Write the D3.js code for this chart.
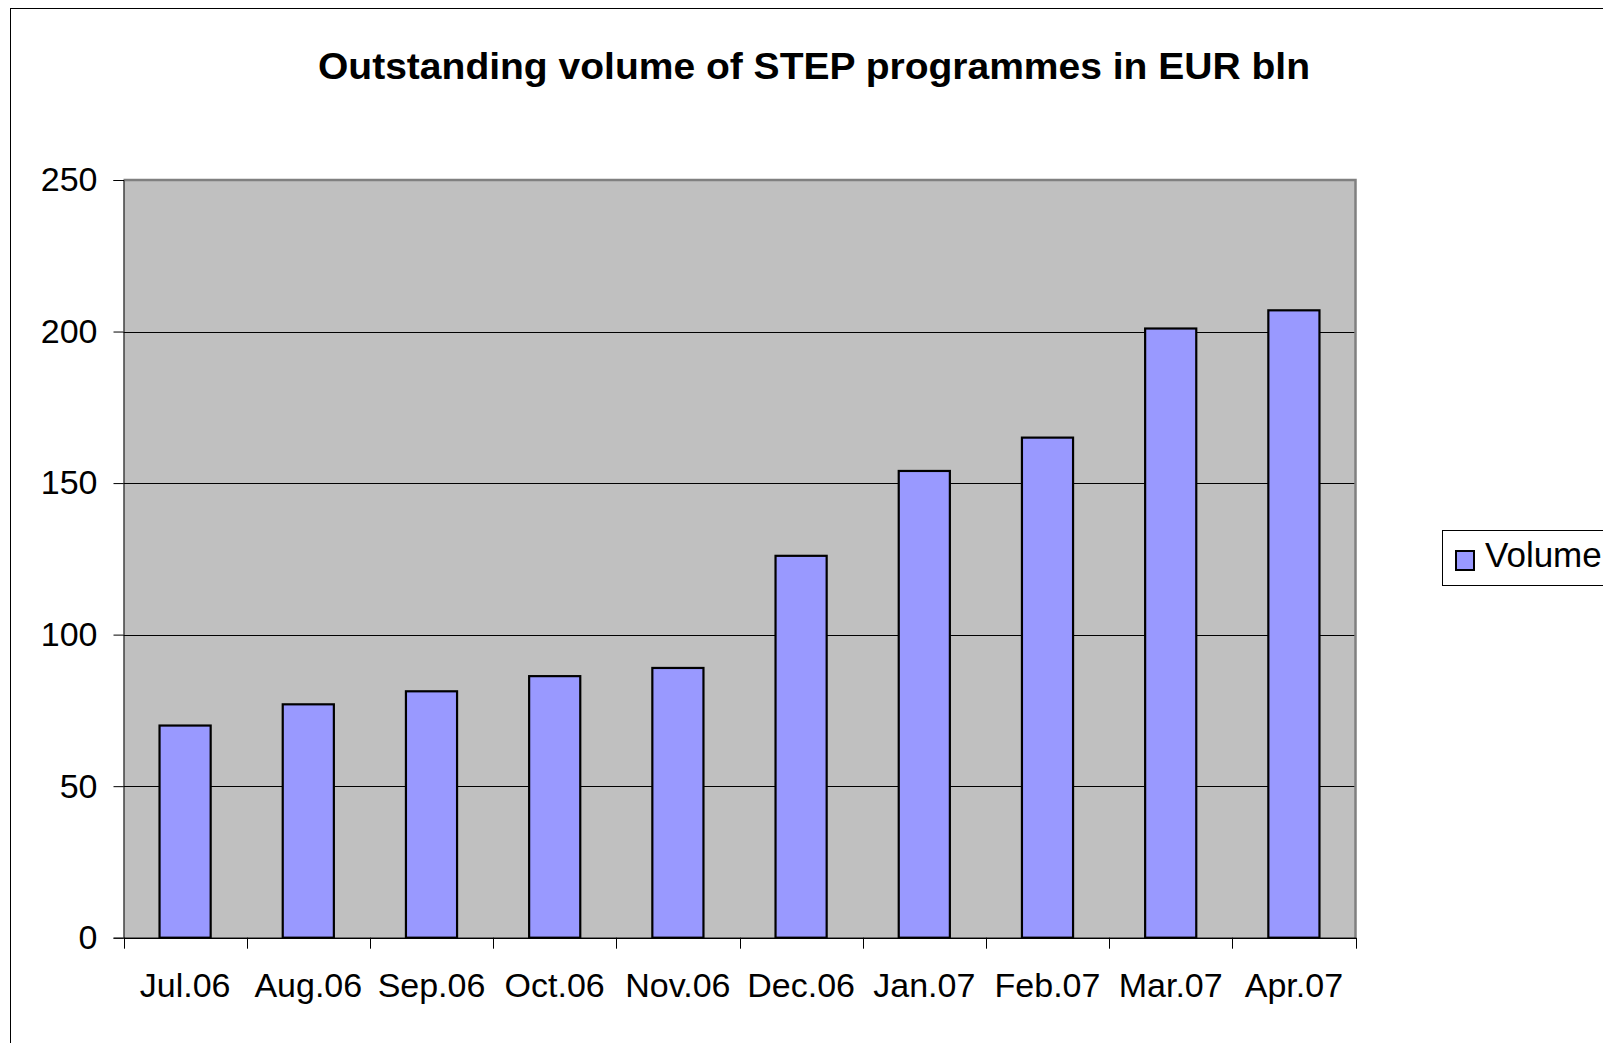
<!DOCTYPE html>
<html>
<head>
<meta charset="utf-8">
<script src="https://cdn.jsdelivr.net/npm/d3@7"></script>
<style>
  html, body { margin: 0; padding: 0; background: #fff; }
  svg { display: block; font-family: "Liberation Sans", Arial, sans-serif; }
</style>
</head>
<body>
<svg id="chart" width="1603" height="1043"></svg>
<script>
const months = ['Jul.06', 'Aug.06', 'Sep.06', 'Oct.06', 'Nov.06',
  'Dec.06', 'Jan.07', 'Feb.07', 'Mar.07', 'Apr.07'];
const volume = [70, 77, 81.3, 86.3, 89, 126, 154, 165, 201, 207];
const yTicks = [0, 50, 100, 150, 200, 250];
const titleText = 'Outstanding volume of STEP programmes in EUR bln';
const seriesName = 'Volume';

const svg = d3.select('#chart');
const plot = {left: 123.5, top: 180, right: 1355.5, bottom: 937.7};
const labelSize = 34;

// outer chart frame, runs off the right and bottom edge like the source
svg.append('rect')
  .attr('x', 10.5).attr('y', 8.5)
  .attr('width', 1700).attr('height', 1100)
  .attr('fill', '#fff')
  .attr('stroke', '#000')
  .attr('stroke-width', 1);

svg.append('text')
  .attr('x', 814).attr('y', 78.5)
  .attr('text-anchor', 'middle')
  .attr('font-size', 37)
  .attr('font-weight', 'bold')
  .attr('textLength', 992)
  .attr('lengthAdjust', 'spacingAndGlyphs')
  .text(titleText);

const x = d3.scaleBand()
  .domain(months)
  .range([plot.left, plot.right])
  .paddingInner(0.585)
  .paddingOuter(0.2925);

const y = d3.scaleLinear()
  .domain([0, 250])
  .range([plot.bottom, plot.top]);

svg.append('rect')
  .attr('x', plot.left).attr('y', plot.top)
  .attr('width', plot.right - plot.left)
  .attr('height', plot.bottom - plot.top)
  .attr('fill', '#c0c0c0');

// gridlines
svg.append('g')
  .selectAll('line')
  .data(yTicks.filter((d) => d > 0 && d < 250))
  .join('line')
  .attr('x1', plot.left).attr('x2', plot.right)
  .attr('y1', (d) => Math.round(y(d)) + 0.5)
  .attr('y2', (d) => Math.round(y(d)) + 0.5)
  .attr('stroke', '#000')
  .attr('stroke-width', 1);

// top and right border of the plot area
svg.append('path')
  .attr('d', `M${plot.left},${plot.top}H${plot.right}V${plot.bottom}`)
  .attr('fill', 'none')
  .attr('stroke', '#808080')
  .attr('stroke-width', 2.5);

svg.append('g')
  .selectAll('rect')
  .data(volume)
  .join('rect')
  .attr('x', (d, i) => x(months[i]))
  .attr('y', (d) => y(d))
  .attr('width', x.bandwidth())
  .attr('height', (d) => y(0) - y(d))
  .attr('fill', '#9999ff')
  .attr('stroke', '#000')
  .attr('stroke-width', 2.2);

// y axis
const yAxis = svg.append('g')
  .attr('transform', `translate(${plot.left},0)`)
  .call(d3.axisLeft(y).tickValues(yTicks).tickSize(10).tickPadding(16));
yAxis.selectAll('text')
  .attr('font-size', labelSize)
  .attr('font-family', '"Liberation Sans", Arial, sans-serif')
  .attr('fill', '#000');
yAxis.selectAll('line').attr('stroke', '#000');
yAxis.select('.domain').attr('stroke', '#000');

// x axis: labels under the categories, ticks on category boundaries
const xAxis = svg.append('g')
  .attr('transform', `translate(0,${plot.bottom})`)
  .call(d3.axisBottom(x).tickSize(0).tickSizeOuter(0));
xAxis.selectAll('text')
  .attr('y', 59)
  .attr('dy', null)
  .attr('font-size', labelSize)
  .attr('font-family', '"Liberation Sans", Arial, sans-serif')
  .attr('fill', '#000');
xAxis.select('.domain').attr('stroke', '#000').attr('stroke-width', 1.5);

const gap = (x.step() - x.bandwidth()) / 2;
const bounds = months.map((m) => x(m) - gap).concat([plot.right]);
xAxis.selectAll('.bound')
  .data(bounds)
  .join('line')
  .attr('class', 'bound')
  .attr('x1', (d) => Math.round(d) + 0.5)
  .attr('x2', (d) => Math.round(d) + 0.5)
  .attr('y1', 0).attr('y2', 11)
  .attr('stroke', '#000');

// legend
const legend = svg.append('g');
legend.append('rect')
  .attr('x', 1442.5).attr('y', 530.5)
  .attr('width', 220).attr('height', 55)
  .attr('fill', '#fff')
  .attr('stroke', '#000');
legend.append('rect')
  .attr('x', 1456).attr('y', 551)
  .attr('width', 18).attr('height', 19)
  .attr('fill', '#9999ff')
  .attr('stroke', '#000')
  .attr('stroke-width', 2);
legend.append('text')
  .attr('x', 1485).attr('y', 567)
  .attr('font-size', 35)
  .text(seriesName);
</script>
</body>
</html>
